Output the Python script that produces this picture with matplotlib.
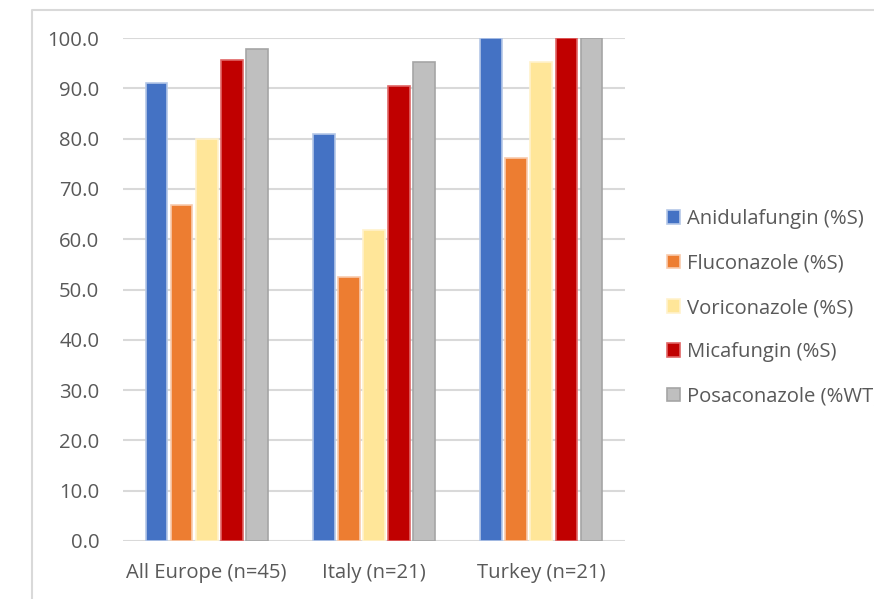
import numpy as np
import matplotlib
matplotlib.use('Agg')
import matplotlib.pyplot as plt
from matplotlib.lines import Line2D

# data (percent susceptible)
groups = ['All Europe (n=45)', 'Italy (n=21)', 'Turkey (n=21)']
anidulafungin = [91.1, 81.0, 100.0]
fluconazole = [66.7, 52.4, 76.2]
voriconazole = [80.0, 61.9, 95.2]
micafungin = [95.6, 90.5, 100.0]
posaconazole = [97.8, 95.2, 100.0]

series = [
    ('Anidulafungin (%S)', anidulafungin, '#4472c4', '#b4c7e7'),
    ('Fluconazole (%S)', fluconazole, '#ed7d31', '#f8cbad'),
    ('Voriconazole (%S)', voriconazole, '#ffe699', '#fff2cc'),
    ('Micafungin (%S)', micafungin, '#c00000', '#e06666'),
    ('Posaconazole (%WT)', posaconazole, '#bfbfbf', '#a5a5a5'),
]

plt.rcParams['font.family'] = ['Open Sans', 'DejaVu Sans']
txt = '#595959'
fs = 14.6

fig = plt.figure(figsize=(8.74, 5.99), dpi=100)
ax = fig.add_axes([123/874, 1-541/599, (625-123)/874, (541-38)/599])

x = np.arange(len(groups))
slot = 0.15
w = 0.13
for i, (name, vals, col, edge) in enumerate(series):
    ax.bar(x + (i-2)*slot, vals, w, color=col, edgecolor=edge, linewidth=1.2,
           label=name, zorder=3)

ax.set_xlim(-0.5, 2.5)
ax.set_ylim(0, 100)
ax.set_yticks(np.arange(0, 101, 10))
ax.set_yticklabels(['%.1f' % v for v in np.arange(0, 101, 10)])
ax.set_xticks(x)
ax.set_xticklabels(groups)
ax.tick_params(axis='both', length=0, colors=txt, labelsize=fs)
ax.tick_params(axis='y', pad=17)
ax.tick_params(axis='x', pad=16)
ax.grid(axis='y', color='#d9d9d9', linewidth=1.5, zorder=0)
for s in ax.spines.values():
    s.set_visible(False)

# legend runs off the right edge, as in the original
leg = ax.legend(loc='center left', bbox_to_anchor=(659/874, 1-308/599),
                bbox_transform=fig.transFigure, frameon=False, fontsize=fs,
                handlelength=0.65, handleheight=0.65, handletextpad=0.35,
                labelspacing=1.2, borderaxespad=0)
for t in leg.get_texts():
    t.set_color(txt)

# outer chart frame
fig.add_artist(Line2D([32/874, 32/874, 1], [0, 1-10/599, 1-10/599],
                      transform=fig.transFigure, color='#d9d9d9', linewidth=1.5))

fig.savefig('out.png', dpi=100)
